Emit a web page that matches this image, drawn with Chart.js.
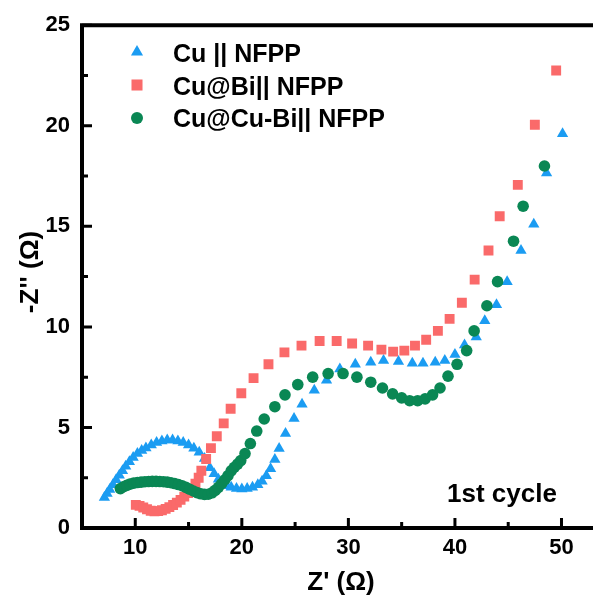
<!DOCTYPE html>
<html>
<head>
<meta charset="utf-8">
<script src="https://cdn.jsdelivr.net/npm/chart.js@4.4.1/dist/chart.umd.min.js"></script>
<style>
  html, body { margin: 0; padding: 0; background: #fff; }
  #wrap { width: 593px; height: 603px; position: relative; }
</style>
</head>
<body>
<div id="wrap"><canvas id="eis"></canvas></div>
<script>
// Nyquist data, Z' / -Z'' in ohm
const cuX = [7.1, 7.35, 7.6, 7.9, 8.2, 8.5, 8.8, 9.1, 9.45, 9.8, 10.2, 10.6, 11.0, 11.5, 12.0, 12.5, 13.0, 13.5, 14.0, 14.5,
  15.0, 15.5, 16.0, 16.5, 17.0, 17.4, 17.8, 18.2, 18.6, 19.0, 19.5, 20.0, 20.5, 21.0, 21.5, 21.9, 22.3, 22.7, 23.1, 23.5,
  24.1, 24.9, 25.65, 26.8, 27.95, 29.2, 30.65, 32.1, 33.3, 34.7, 36.0, 37.0, 38.15, 39.05, 40.0, 40.9, 42.0, 42.8, 43.9, 44.9,
  46.2, 47.4, 48.6, 50.1];
const cuY = [1.52, 1.72, 1.92, 2.15, 2.4, 2.62, 2.85, 3.07, 3.3, 3.5, 3.7, 3.85, 3.98, 4.13, 4.25, 4.33, 4.37, 4.37, 4.33, 4.25,
  4.13, 3.97, 3.77, 3.45, 3.0, 2.7, 2.42, 2.22, 2.1, 2.02, 1.96, 1.94, 1.96, 2.03, 2.15, 2.33, 2.6, 2.95, 3.4, 3.95,
  4.7, 5.45, 6.15, 6.85, 7.35, 7.9, 8.14, 8.24, 8.33, 8.28, 8.19, 8.19, 8.24, 8.33, 8.63, 9.1, 9.5, 10.3, 11.1, 12.25,
  13.8, 15.1, 17.65, 19.6];

const cuBiX = [10.05, 10.4, 10.75, 11.1, 11.45, 11.8, 12.15, 12.5, 12.85, 13.2, 13.55, 13.9, 14.25, 14.6, 14.95, 15.3, 15.65, 15.95, 16.2,
  16.65, 17.1, 17.65, 18.3, 18.95, 19.95, 21.1, 22.5, 24.0, 25.6, 27.3, 28.9, 30.35, 31.85, 33.1, 34.2, 35.25, 36.25, 37.3, 38.4,
  39.5, 40.65, 41.85, 43.15, 44.2, 45.9, 47.5, 49.5];
const cuBiY = [1.15, 1.1, 1.02, 0.93, 0.86, 0.83, 0.84, 0.88, 0.95, 1.04, 1.14, 1.26, 1.4, 1.56, 1.74, 1.95, 2.2, 2.5, 2.85,
  3.43, 3.97, 4.56, 5.2, 5.93, 6.7, 7.45, 8.14, 8.73, 9.07, 9.3, 9.3, 9.17, 9.07, 8.87, 8.77, 8.82, 9.07, 9.36, 9.8,
  10.4, 11.2, 12.35, 13.8, 15.5, 17.06, 20.05, 22.75];

const cuCuBiX = [8.6, 8.9, 9.2, 9.5, 9.85, 10.2, 10.55, 10.9, 11.25, 11.6, 11.95, 12.3, 12.65, 13.0, 13.35, 13.7, 14.05, 14.4, 14.75, 15.1,
  15.45, 15.8, 16.15, 16.5, 16.85, 17.2, 17.5, 17.8, 18.1, 18.4, 18.7, 19.0, 19.3, 19.6, 19.9, 20.3, 20.8, 21.4, 22.1, 23.1,
  24.05, 25.25, 26.65, 28.1, 29.5, 30.8, 32.1, 33.2, 34.15, 35.0, 35.75, 36.5, 37.2, 37.9, 38.6, 39.35, 40.2, 41.1, 41.8, 43.0,
  44.0, 45.5, 46.4, 48.4];
const cuCuBiY = [1.96, 2.05, 2.12, 2.18, 2.23, 2.26, 2.28, 2.3, 2.31, 2.32, 2.32, 2.31, 2.3, 2.28, 2.25, 2.21, 2.16, 2.1, 2.02, 1.93,
  1.84, 1.76, 1.7, 1.67, 1.68, 1.75, 1.87, 2.02, 2.2, 2.4, 2.6, 2.84, 3.02, 3.18, 3.35, 3.7, 4.2, 4.82, 5.42, 6.03,
  6.62, 7.13, 7.5, 7.68, 7.68, 7.5, 7.25, 6.96, 6.67, 6.47, 6.33, 6.33, 6.42, 6.62, 6.96, 7.55, 8.14, 8.82, 9.8, 11.05,
  12.25, 14.26, 16.0, 18.0];

const seriesNames = ["Cu || NFPP", "Cu@Bi|| NFPP", "Cu@Cu-Bi|| NFPP"];
const xTicks = [10, 20, 30, 40, 50];
const xMinor = [15, 25, 35, 45];
const yTicks = [0, 5, 10, 15, 20, 25];
const yMinor = [2.5, 7.5, 12.5, 17.5, 22.5];

const BLUE = "#1b9cf2";
const RED = "#fa6a6a";
const GREEN = "#0a8754";
const FONT = '"Liberation Sans", Arial, sans-serif';

const pairs = (xs, ys) => xs.map((v, i) => ({ x: v, y: ys[i] }));

function marker(ctx, style, x, y, r) {
  ctx.beginPath();
  if (style === "triangle") {
    ctx.moveTo(x, y - r);
    ctx.lineTo(x + r * 0.866, y + r * 0.5);
    ctx.lineTo(x - r * 0.866, y + r * 0.5);
    ctx.closePath();
  } else if (style === "rect") {
    const s = r * Math.SQRT1_2;
    ctx.rect(x - s, y - s, 2 * s, 2 * s);
  } else {
    ctx.arc(x, y, r, 0, Math.PI * 2);
  }
  ctx.fill();
}

// axes frame, inward ticks, titles, legend and annotation
const framePlugin = {
  id: "frame",
  afterDraw(chart) {
    const { ctx, chartArea: a, scales } = chart;
    const sx = scales.x, sy = scales.y;
    ctx.save();
    ctx.strokeStyle = "#000";
    ctx.lineWidth = 4;
    ctx.lineCap = "square";
    ctx.beginPath();
    ctx.moveTo(chart.width + 4, a.top);
    ctx.lineTo(a.left, a.top);
    ctx.lineTo(a.left, a.bottom);
    ctx.lineTo(chart.width + 4, a.bottom);
    ctx.stroke();

    ctx.lineCap = "butt";
    ctx.lineWidth = 3;
    ctx.beginPath();
    xTicks.forEach(v => {
      const p = sx.getPixelForValue(v);
      ctx.moveTo(p, a.bottom);
      ctx.lineTo(p, a.bottom - 10);
    });
    xMinor.forEach(v => {
      const p = sx.getPixelForValue(v);
      ctx.moveTo(p, a.bottom);
      ctx.lineTo(p, a.bottom - 6);
    });
    yTicks.forEach(v => {
      const p = sy.getPixelForValue(v);
      ctx.moveTo(a.left, p);
      ctx.lineTo(a.left + 10, p);
    });
    yMinor.forEach(v => {
      const p = sy.getPixelForValue(v);
      ctx.moveTo(a.left, p);
      ctx.lineTo(a.left + 6, p);
    });
    ctx.stroke();

    ctx.fillStyle = "#000";
    ctx.font = "bold 26px " + FONT;
    ctx.textAlign = "center";
    ctx.textBaseline = "alphabetic";
    ctx.fillText("Z' (\u03A9)", 341, 590);

    ctx.save();
    ctx.translate(38, 272);
    ctx.rotate(-Math.PI / 2);
    ctx.fillText("-Z'' (\u03A9)", 0, 0);
    ctx.restore();

    ctx.textAlign = "left";
    ctx.fillText("1st cycle", 447, 502);

    // legend
    const styles = ["triangle", "rect", "circle"];
    const colors = [BLUE, RED, GREEN];
    const radii = [7, 7.8, 6];
    const rows = [52, 85, 118];
    const bases = [62, 94.5, 127];
    ctx.font = "bold 25px " + FONT;
    seriesNames.forEach((name, i) => {
      ctx.fillStyle = colors[i];
      marker(ctx, styles[i], 137, rows[i], radii[i]);
      ctx.fillStyle = "#000";
      ctx.fillText(name, 173, bases[i]);
    });
    ctx.restore();
  }
};

new Chart(document.getElementById("eis"), {
  type: "scatter",
  data: {
    datasets: [
      {
        label: seriesNames[0],
        data: pairs(cuX, cuY),
        pointStyle: "triangle",
        pointRadius: 6.5,
        backgroundColor: BLUE,
        borderColor: BLUE,
        borderWidth: 0,
        order: 3
      },
      {
        label: seriesNames[1],
        data: pairs(cuBiX, cuBiY),
        pointStyle: "rect",
        pointRadius: 7,
        backgroundColor: RED,
        borderColor: RED,
        borderWidth: 0,
        order: 2
      },
      {
        label: seriesNames[2],
        data: pairs(cuCuBiX, cuCuBiY),
        pointStyle: "circle",
        pointRadius: 5.8,
        backgroundColor: GREEN,
        borderColor: GREEN,
        borderWidth: 0,
        order: 1
      }
    ]
  },
  options: {
    responsive: true,
    maintainAspectRatio: false,
    animation: false,
    devicePixelRatio: 1,
    layout: { padding: { top: 18, right: 0, left: 0, bottom: 0 } },
    plugins: {
      legend: { display: false },
      tooltip: { enabled: false }
    },
    scales: {
      x: {
        type: "linear",
        min: 5,
        max: 52.3,
        afterBuildTicks: s => { s.ticks = xTicks.map(v => ({ value: v })); },
        afterFit: s => { s.height = 75; },
        grid: { display: true, drawOnChartArea: false, drawTicks: false },
        border: { display: false },
        ticks: {
          color: "#000",
          padding: 7,
          maxRotation: 0,
          font: { family: FONT, size: 22, weight: "bold" }
        }
      },
      y: {
        type: "linear",
        min: 0,
        max: 25,
        afterBuildTicks: s => { s.ticks = yTicks.map(v => ({ value: v })); },
        afterFit: s => { s.width = 82; },
        grid: { display: true, drawOnChartArea: false, drawTicks: false },
        border: { display: false },
        ticks: {
          color: "#000",
          padding: 12,
          font: { family: FONT, size: 22, weight: "bold" }
        }
      }
    }
  },
  plugins: [framePlugin]
});
</script>
</body>
</html>
